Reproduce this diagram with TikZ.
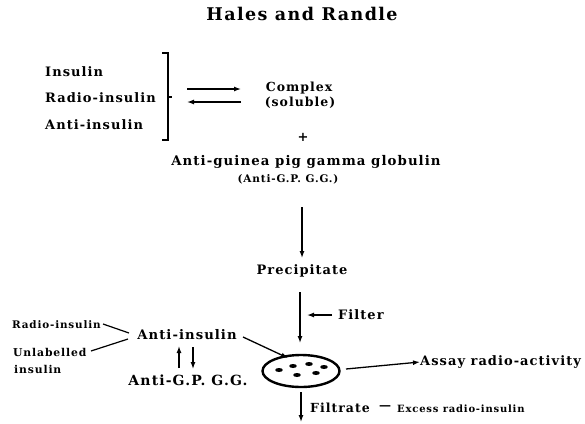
\documentclass[tikz,border=0pt]{standalone}
\usepackage{fontspec}
\setmainfont{DejaVu Serif}[LetterSpace=8]
\usetikzlibrary{arrows.meta,shapes.geometric}
\begin{document}
\begin{tikzpicture}[x=1pt,y=-1pt,
  lbl/.style={inner sep=0pt, font=\bfseries\fontsize{#1}{#1}\selectfont},
  lbl/.default=12,
  arr/.style={line width=1.3pt, -{Latex[length=7pt,width=5pt]}},
  ln/.style={line width=1.2pt},
  dot/.style={fill=black}]
\useasboundingbox (0,0) rectangle (585,423);
% title
\node[lbl=17.5] (title) at (302,14) {Hales and Randle};
% reactants
\node[lbl=13, anchor=west] (ins) at (45,72) {Insulin};
\node[lbl=13, anchor=west] (radio) at (45,98) {Radio-insulin};
\node[lbl=13, anchor=west] (anti) at (45,125) {Anti-insulin};
\coordinate (b1) at (162,53); \coordinate (b2) at (168,53);
\coordinate (b3) at (168,140); \coordinate (b4) at (162,140);
\coordinate (b5) at (168,97); \coordinate (b6) at (172,97);
\draw[line width=1.5pt] (b1) -- (b2) -- (b3) -- (b4);
\draw[line width=1.2pt] (b5) -- (b6);
\coordinate (f1) at (187,89); \coordinate (f2) at (241,89);
\coordinate (r1) at (241,102); \coordinate (r2) at (187,102);
\draw[arr] (f1) -- (f2);
\draw[arr] (r1) -- (r2);
\node[lbl=12.5] (complex) at (299,88) {Complex};
\node[lbl=12.5] (soluble) at (300,103) {(soluble)};
\node[lbl=13] (plus) at (303,137) {+};
\node[lbl=13.3] (agg) at (306,162) {Anti-guinea pig gamma globulin};
\node[lbl=10.5] (aggab) at (288,179) {(Anti-G.P. G.G.)};
\coordinate (v1) at (302,207); \coordinate (v2) at (302,258);
\draw[arr] (v1) -- (v2);
\node[lbl=13] (precip) at (302,271) {Precipitate};
\coordinate (p1) at (300,292); \coordinate (p2) at (300,343);
\draw[arr] (p1) -- (p2);
\coordinate (fl1) at (332,315); \coordinate (fl2) at (307,315);
\draw[arr] (fl1) -- (fl2);
\node[lbl=13, anchor=west] (filter) at (338,315) {Filter};
% dish
\node[draw, ellipse, line width=2.4pt, minimum width=77pt, minimum height=32pt, inner sep=0pt] (dish) at (301,371) {};
\fill[dot] (279,370) ellipse (3.8 and 2);
\fill[dot] (293,366) ellipse (3.8 and 2);
\fill[dot] (309,364) ellipse (3.8 and 2);
\fill[dot] (324,367) ellipse (3.8 and 2);
\fill[dot] (297,375) ellipse (3.8 and 2);
\fill[dot] (316,373) ellipse (3.8 and 2);
\node[lbl=13, anchor=west] (assay) at (420,362) {Assay radio-activity};
\coordinate (as1) at (346,369);
\draw[arr] (as1) -- (assay.west);
\coordinate (d1) at (301,392); \coordinate (d2) at (301,422);
\draw[arr] (d1) -- (d2);
\node[lbl=12.5, anchor=west] (filtrate) at (310,408) {Filtrate};
\node[lbl=12, anchor=west] (dash) at (379,408) {—};
\node[lbl=10, anchor=west] (excess) at (397,409) {Excess radio-insulin};
% lower left
\node[lbl=13.2] (ai) at (187,335) {Anti-insulin};
\node[lbl=10.4, anchor=west] (ri) at (12,325) {Radio-insulin};
\node[lbl=10.8, anchor=west] (unl) at (13,352) {Unlabelled};
\node[lbl=10.8, anchor=west] (unl2) at (14,369) {insulin};
\coordinate (l1) at (103,324); \coordinate (l2) at (129,333);
\coordinate (l3) at (91,351); \coordinate (l4) at (128,339);
\draw[ln] (l1) -- (l2);
\draw[ln] (l3) -- (l4);
\node[lbl=14] (agp) at (188,380) {Anti-G.P. G.G.};
\coordinate (u1) at (179,368); \coordinate (u2) at (179,346);
\coordinate (w1) at (193,347); \coordinate (w2) at (193,369);
\draw[arr] (u1) -- (u2);
\draw[arr] (w1) -- (w2);
\coordinate (t1) at (243,337); \coordinate (t2) at (288,358);
\draw[arr] (t1) -- (t2);
\end{tikzpicture}
\end{document}
